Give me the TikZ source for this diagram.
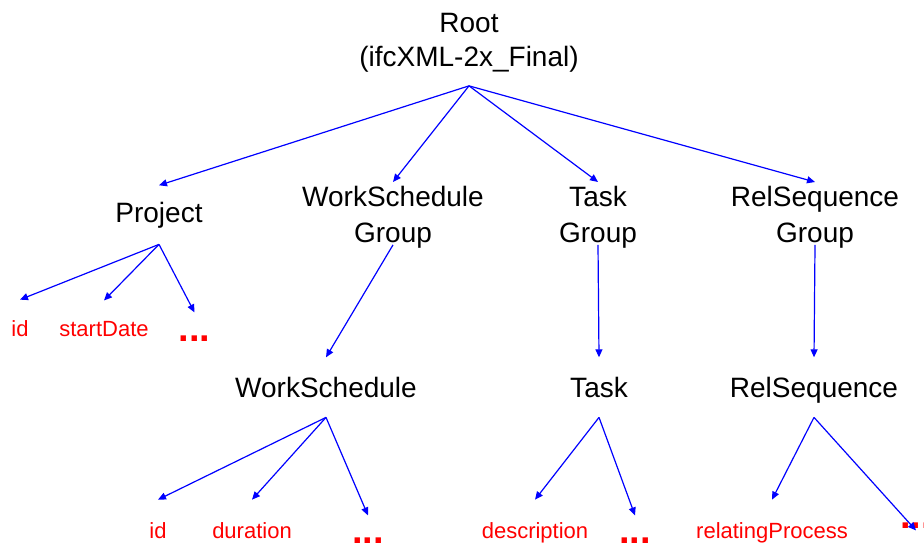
\documentclass[tikz,border=0pt]{standalone}
\usepackage{fontspec}
\setmainfont{Liberation Sans}
\usetikzlibrary{arrows.meta, positioning}
\definecolor{linkblue}{RGB}{0, 0, 255}
\definecolor{attrred}{RGB}{255, 0, 0}
\tikzset{
  >=Triangle,
  link/.style={-{Triangle[length=4pt, width=3.5pt]}, line width=0.6pt, linkblue}
}

\begin{document}
\begin{tikzpicture}[x=0.5pt, y=-0.5pt,
    grp/.style={inner sep=0pt, anchor=north, align=center, font=\fontsize{14}{18}\selectfont},
    elem/.style={inner sep=0pt, anchor=base, text depth=3.5pt, font=\fontsize{14}{18}\selectfont},
    attr/.style={inner sep=0pt, anchor=base, text=attrred, font=\fontsize{11}{13}\selectfont},
    more/.style={inner sep=0pt, anchor=base, text=attrred, font=\fontsize{19}{19}\selectfont\bfseries}]
    \useasboundingbox (0,0) rectangle (924,544);
    % Root element
    \node (root) [grp, font=\fontsize{14}{17}\selectfont] at (469,13) {Root\\(ifcXML-2x\_Final)};
    % First level: project and the three groups
    \node (proj) [elem] at (159,223) {Project};
    \node (wsgrp) [grp] at (393,186) {WorkSchedule\\Group};
    \node (taskgrp) [grp] at (598,186) {Task\\Group};
    \node (rsgrp) [grp] at (815,186) {RelSequence\\Group};
    % Second level
    \node (ws) [elem] at (326,397) {WorkSchedule};
    \node (task) [elem] at (599,397) {Task};
    \node (rs) [elem] at (814,397) {RelSequence};
    % Attributes of Project
    \node (pid) [attr] at (20,337) {id};
    \node (pdate) [attr] at (104,337) {startDate};
    \node (pdots) [more] at (194.5,341.5) {...};
    % Attributes of WorkSchedule, Task and RelSequence
    \node (wid) [attr] at (158,538) {id};
    \node (wdur) [attr] at (252,538) {duration};
    \node (wdots) [more] at (368,543.5) {...};
    \node (tdesc) [attr] at (535,538) {description};
    \node (tdots) [more] at (635,543.5) {...};
    \node (rproc) [attr] at (772,538) {relatingProcess};
    \node (rdots) [more] at (916,528.5) {...};
    % Fork points under each parent
    \coordinate (rootfork) at ([yshift=-6.5pt]root.south);
    \coordinate (projfork) at ([yshift=-7pt]proj.south);
    \coordinate (wsgrpfork) at ([yshift=2pt]wsgrp.south);
    \coordinate (taskgrpfork) at ([yshift=2pt]taskgrp.south);
    \coordinate (rsgrpfork) at ([yshift=2pt]rsgrp.south);
    \coordinate (wsfork) at ([yshift=-6.5pt]ws.south);
    \coordinate (taskfork) at ([yshift=-6.5pt]task.south);
    \coordinate (rsfork) at ([yshift=-6.5pt]rs.south);
    % Root -> first level
    \draw[link] (rootfork) -- ([yshift=8.5pt]proj.north);
    \draw[link] (rootfork) -- ([yshift=2pt]wsgrp.north);
    \draw[link] (rootfork) -- ([yshift=2pt]taskgrp.north);
    \draw[link] (rootfork) -- ([yshift=2pt]rsgrp.north);
    % Groups -> elements
    \draw[link] (wsgrpfork) -- ([yshift=9.5pt]ws.north);
    \draw[link] (taskgrpfork) -- ([yshift=9.5pt]task.north);
    \draw[link] (rsgrpfork) -- ([yshift=9.5pt]rs.north);
    % Elements -> attributes
    \draw[link] (projfork) -- ([yshift=10.5pt]pid.north);
    \draw[link] (projfork) -- ([yshift=10.5pt]pdate.north);
    \draw[link] (projfork) -- ([yshift=11.5pt]pdots.north);
    \draw[link] (wsfork) -- ([yshift=11pt]wid.north);
    \draw[link] (wsfork) -- ([yshift=11pt]wdur.north);
    \draw[link] (wsfork) -- ([yshift=11pt]wdots.north);
    \draw[link] (taskfork) -- ([yshift=11pt]tdesc.north);
    \draw[link] (taskfork) -- ([yshift=11pt]tdots.north);
    \draw[link] (rsfork) -- ([yshift=11pt]rproc.north);
    \draw[link] (rsfork) -- ([yshift=-4pt]rdots.north);
\end{tikzpicture}
\end{document}
